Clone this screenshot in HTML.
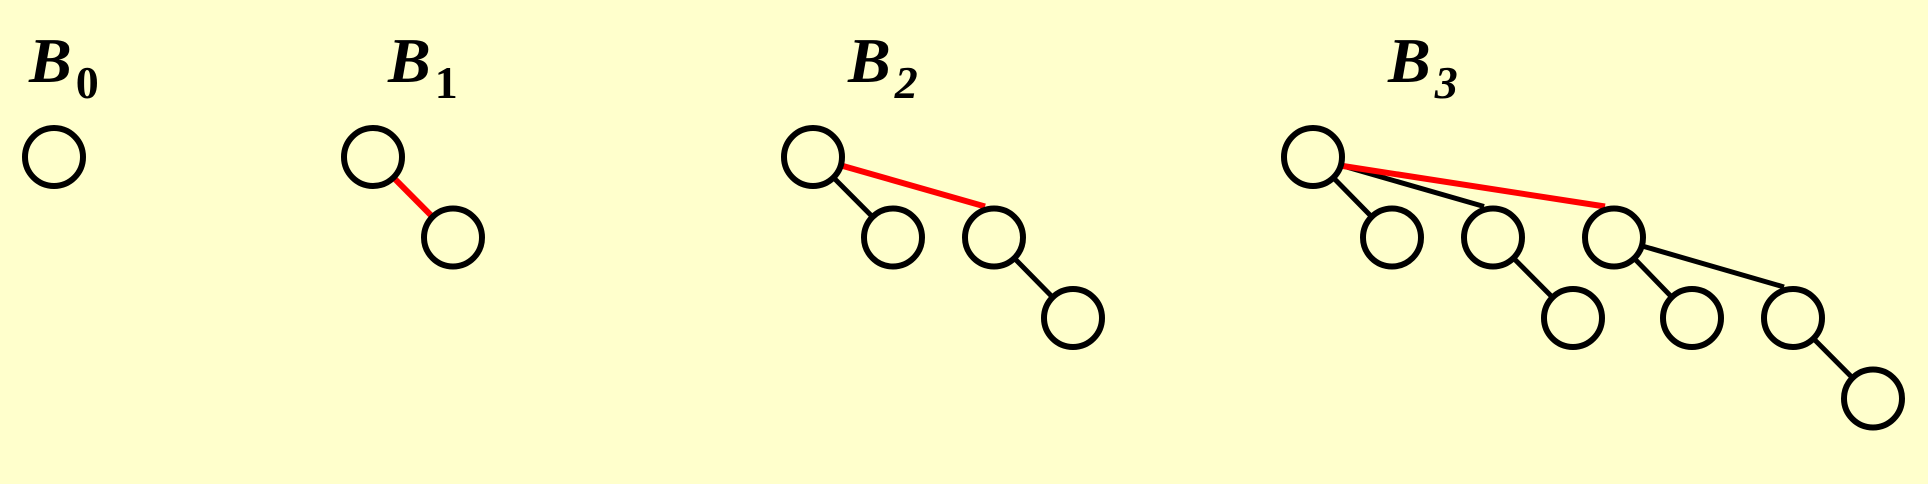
<!DOCTYPE html>
<html><head><meta charset="utf-8"><style>
html,body{margin:0;padding:0;background:#FFFFCC;}
svg{display:block;}
</style></head><body>
<svg width="1928" height="484" viewBox="0 0 1928 484" xmlns="http://www.w3.org/2000/svg">
<rect width="1928" height="484" fill="#FFFFCC"/>
<g id="labels"></g>
<g id="edges"></g>
<g id="nodes"></g>
</svg>
<script>
// trees: label position, node positions, parent index, red edge
const treeNames = ["0","1","2","3"];
const labelX = [29, 388, 848, 1388];
const nodeX = [
  [54],
  [373, 453],
  [813, 893, 994, 1073],
  [1313, 1392, 1493, 1614, 1573, 1692, 1793, 1873]
];
const nodeDepth = [
  [0],
  [0, 1],
  [0, 1, 1, 2],
  [0, 1, 1, 1, 2, 2, 2, 3]
];
const nodeParent = [
  [-1],
  [-1, 0],
  [-1, 0, 0, 2],
  [-1, 0, 0, 0, 2, 3, 3, 6]
];
const redChild = [-1, 1, 2, 3];

const NS = "http://www.w3.org/2000/svg";
const yOf = d => 157 + d * 80.5;
const R = 29;
const gL = document.getElementById('labels');
const gE = document.getElementById('edges');
const gN = document.getElementById('nodes');

treeNames.forEach((n, t) => {
  const tx = document.createElementNS(NS, 'text');
  
  
  tx.setAttribute('x', labelX[t]);
  tx.setAttribute('y', 82);
  tx.setAttribute('font-family', '"Liberation Serif", serif');
  tx.setAttribute('font-weight', 'bold');
  tx.setAttribute('font-size', '64');
  const b = document.createElementNS(NS, 'tspan');
  b.setAttribute('font-style', 'italic');
  b.textContent = 'B';
  const s = document.createElementNS(NS, 'tspan');
  s.setAttribute('font-size', '46');
  s.setAttribute('dx', '4');
  s.setAttribute('dy', '16');
  if (t >= 2) s.setAttribute('font-style', 'italic');
  s.textContent = n;
  tx.appendChild(b); tx.appendChild(s);
  gL.appendChild(tx);

  nodeX[t].forEach((x, i) => {
    const p = nodeParent[t][i];
    if (p >= 0) {
      const firstChild = nodeParent[t].indexOf(p) === i;
      const px = nodeX[t][p], py = yOf(nodeDepth[t][p]);
      const cy = yOf(nodeDepth[t][i]);
      const l = document.createElementNS(NS, 'line');
      
      
      if (firstChild) {
        l.setAttribute('x1', px); l.setAttribute('y1', py);
        l.setAttribute('x2', x); l.setAttribute('y2', cy);
      } else {
        l.setAttribute('x1', px + 30); l.setAttribute('y1', py + 9);
        l.setAttribute('x2', x - 9); l.setAttribute('y2', cy - 31);
      }
      const red = redChild[t] === i;
      l.setAttribute('stroke', red ? '#FF0000' : '#000');
      l.setAttribute('stroke-width', red ? 6 : 5);
      gE.appendChild(l);
    }
    const c = document.createElementNS(NS, 'circle');
    
    
    c.setAttribute('cx', x);
    c.setAttribute('cy', yOf(nodeDepth[t][i]));
    c.setAttribute('r', R);
    c.setAttribute('fill', '#FFFFCC');
    c.setAttribute('stroke', '#000');
    c.setAttribute('stroke-width', 6);
    gN.appendChild(c);
  });
});
</script>
</body></html>
